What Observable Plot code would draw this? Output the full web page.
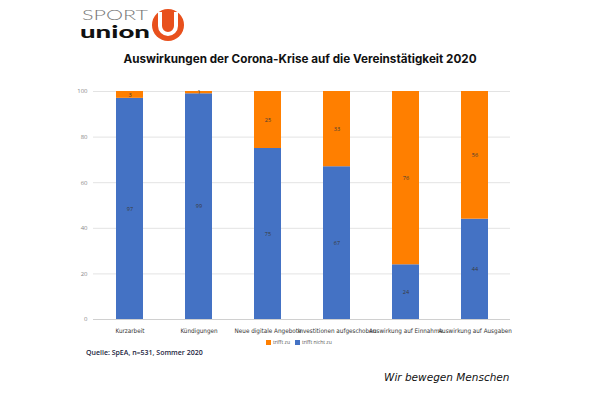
<!DOCTYPE html>
<html>
<head>
<meta charset="utf-8">
<script src="https://cdn.jsdelivr.net/npm/d3@7"></script>
<script src="https://cdn.jsdelivr.net/npm/@observablehq/plot@0.6"></script>
<style>
  body { margin: 0; background: #fff; }
  #wrap { position: relative; width: 600px; height: 399px; overflow: hidden; background: #fff; }
  #chart { position: absolute; left: 0; top: 0; }
  .abs { position: absolute; white-space: nowrap; }
</style>
</head>
<body>
<div id="wrap">
  <div id="chart"></div>
  <svg class="abs" style="left:78px;top:4px" width="112" height="42">
    <text x="4" y="15.5" font-family="Lato, 'Open Sans', sans-serif" font-size="14" font-weight="300" fill="#777" textLength="66" lengthAdjust="spacingAndGlyphs">SPORT</text>
    <text x="2" y="34" font-family="Lato, 'DejaVu Sans', sans-serif" font-size="17" font-weight="900" fill="#111" textLength="70" lengthAdjust="spacingAndGlyphs">union</text>
    <circle cx="90" cy="21" r="16" fill="#e8501c"/>
    <path d="M82,8 L82,22 A8,8 0 0 0 98,22 L98,8" fill="none" stroke="#fff" stroke-width="4"/>
  </svg>
  <div class="abs" id="title" style="left:0;width:600px;top:52px;text-align:center;font-family:Inter, 'Open Sans', sans-serif;font-weight:700;font-size:11.7px;color:#111;">Auswirkungen der Corona-Krise auf die Vereinstätigkeit 2020</div>
  <div class="abs" id="legend" style="left:266px;top:339px;font-family:'Open Sans', sans-serif;font-size:5px;color:#555;display:flex;align-items:center;"></div>
  <div class="abs" id="source" style="left:86px;top:348px;font-family:'Open Sans', sans-serif;font-weight:600;font-size:7px;color:#1b2440;">Quelle: SpEA, n=531, Sommer 2020</div>
  <div class="abs" style="left:384px;top:371px;font-family:'DejaVu Sans', sans-serif;font-style:italic;font-size:10.5px;color:#111;">Wir bewegen Menschen</div>
</div>
<script>
const categories = ["Kurzarbeit", "Kündigungen", "Neue digitale Angebote", "Investitionen aufgeschoben", "Auswirkung auf Einnahme", "Auswirkung auf Ausgaben"];
const triffNichtZu = [97, 99, 75, 67, 24, 44];
const trifftZu = [3, 1, 25, 33, 76, 56];
const seriesNames = ["trifft nicht zu", "trifft zu"];
const seriesColors = ["#4472C4", "#FF7F00"];
const yTicks = [0, 20, 40, 60, 80, 100];

const data = [];
categories.forEach((c, i) => {
  data.push({category: c, series: seriesNames[0], value: triffNichtZu[i]});
  data.push({category: c, series: seriesNames[1], value: trifftZu[i]});
});

const chart = Plot.plot({
  width: 600,
  height: 340,
  marginTop: 91,
  marginBottom: 21,
  marginLeft: 93,
  marginRight: 90,
  style: {background: "transparent", fontFamily: "'Open Sans', sans-serif"},
  x: {domain: categories, paddingInner: 0.61, paddingOuter: 0.305, label: null},
  y: {domain: [0, 100], label: null},
  color: {domain: seriesNames, range: seriesColors},
  marks: [
    Plot.ruleY(yTicks.filter(d => d > 0), {stroke: "#e3e3e3", strokeWidth: 1}),
    Plot.ruleY([0], {stroke: "#d0d0d0", strokeWidth: 1}),
    Plot.axisY({ticks: yTicks, tickSize: 0, tickPadding: 6, fontSize: 6, color: "#888", label: null}),
    Plot.axisX({tickSize: 0, tickPadding: 9, fontSize: 6.3, fontFamily: "'DejaVu Sans Condensed', 'Liberation Sans Narrow', Roboto, sans-serif", color: "#333", label: null}),
    Plot.barY(data, Plot.stackY({x: "category", y: "value", fill: "series", order: seriesNames})),
    Plot.text(data, Plot.stackY({x: "category", y: "value", z: "series", order: seriesNames, text: d => d.value, fontSize: 5.5, fill: "#3a3a3a"}))
  ]
});
document.getElementById("chart").appendChild(chart);

const legend = document.getElementById("legend");
[[seriesNames[1], seriesColors[1]], [seriesNames[0], seriesColors[0]]].forEach(([name, color], i) => {
  const sw = document.createElement("span");
  sw.style.cssText = `display:inline-block;width:5px;height:5px;background:${color};margin-right:2px;margin-left:${i ? 5 : 0}px;`;
  const lb = document.createElement("span");
  lb.textContent = name;
  legend.appendChild(sw);
  legend.appendChild(lb);
});
</script>
</body>
</html>
